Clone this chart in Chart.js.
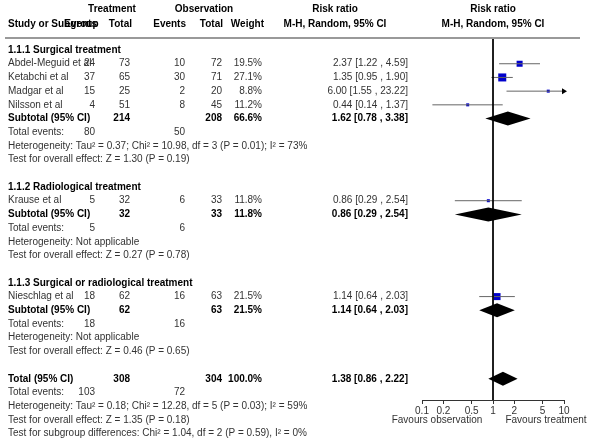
<!DOCTYPE html>
<html>
<head>
<meta charset="utf-8">
<script src="https://cdn.jsdelivr.net/npm/chart.js@4"></script>
<style>body{margin:0;background:#fff}</style>
</head>
<body>
<div style="width:591px;height:448px"><canvas id="myChart"></canvas></div>
<script>
// study rows: row index, name, events/totals, weight, rr with ci
var studyRows = [1, 2, 3, 4, 11, 18];
var studyNames = ['Abdel-Meguid et al', 'Ketabchi et al', 'Madgar et al', 'Nilsson et al', 'Krause et al', 'Nieschlag et al'];
var trtEvents = [24, 37, 15, 4, 5, 18];
var trtTotal = [73, 65, 25, 51, 32, 62];
var obsEvents = [10, 30, 2, 8, 6, 16];
var obsTotal = [72, 71, 20, 45, 33, 63];
var weights = ['19.5%', '27.1%', '8.8%', '11.2%', '11.8%', '21.5%'];
var rr = [2.37, 1.35, 6.00, 0.44, 0.86, 1.14];
var rrLo = [1.22, 0.95, 1.55, 0.14, 0.29, 0.64];
var rrHi = [4.59, 1.90, 23.22, 1.37, 2.54, 2.03];
var boxSize = [6, 8, 3, 3, 3, 7];

// pooled rows (subtotals and total)
var poolRows = [5, 12, 19, 24];
var poolNames = ['Subtotal (95% CI)', 'Subtotal (95% CI)', 'Subtotal (95% CI)', 'Total (95% CI)'];
var poolTrtTotal = [214, 32, 62, 308];
var poolObsTotal = [208, 33, 63, 304];
var poolWeight = ['66.6%', '11.8%', '21.5%', '100.0%'];
var poolRR = [1.62, 0.86, 1.14, 1.38];
var poolLo = [0.78, 0.29, 0.64, 0.86];
var poolHi = [3.38, 2.54, 2.03, 2.22];
var poolTrtEvents = [80, 5, 18, 103];
var poolObsEvents = [50, 6, 16, 72];

var groupRows = [0, 10, 17];
var groupNames = ['1.1.1 Surgical treatment', '1.1.2 Radiological treatment', '1.1.3 Surgical or radiological treatment'];

var noteRows = [7, 8, 14, 15, 21, 22, 26, 27, 28];
var notes = [
  'Heterogeneity: Tau\u00b2 = 0.37; Chi\u00b2 = 10.98, df = 3 (P = 0.01); I\u00b2 = 73%',
  'Test for overall effect: Z = 1.30 (P = 0.19)',
  'Heterogeneity: Not applicable',
  'Test for overall effect: Z = 0.27 (P = 0.78)',
  'Heterogeneity: Not applicable',
  'Test for overall effect: Z = 0.46 (P = 0.65)',
  'Heterogeneity: Tau\u00b2 = 0.18; Chi\u00b2 = 12.28, df = 5 (P = 0.03); I\u00b2 = 59%',
  'Test for overall effect: Z = 1.35 (P = 0.18)',
  'Test for subgroup differences: Chi\u00b2 = 1.04, df = 2 (P = 0.59), I\u00b2 = 0%'
];

var xTicks = [0.1, 0.2, 0.5, 1, 2, 5, 10];
var xMin = 0.1, xMax = 10;
var yTop = -0.88, yBottom = 25.55;

var FONT = '"Liberation Sans", Arial, sans-serif';
function fmt(v) { return v.toFixed(2); }

var datasets = [];
// line of no effect
datasets.push({type: 'line', data: [{x: 1, y: yTop}, {x: 1, y: yBottom}], borderColor: '#000', borderWidth: 1, pointRadius: 0});
// CI whiskers
for (var i = 0; i < studyRows.length; i++) {
  datasets.push({type: 'line', data: [{x: Math.max(rrLo[i], xMin), y: studyRows[i]}, {x: Math.min(rrHi[i], xMax), y: studyRows[i]}],
    borderColor: '#666', borderWidth: 1, pointRadius: 0});
}
// boxes
datasets.push({type: 'scatter', data: rr.map(function (v, i) { return {x: v, y: studyRows[i]}; }),
  pointStyle: 'rect', pointRadius: boxSize.map(function (s) { return s / 1.41; }),
  backgroundColor: '#0000cc', borderColor: '#0000cc', borderWidth: 0});

var textPlugin = {
  id: 'forestText',
  afterDatasetsDraw: function (chart) {
    var ctx = chart.ctx, ys = chart.scales.y, xs = chart.scales.x;
    // pooled diamonds
    ctx.save();
    ctx.fillStyle = '#000';
    poolRows.forEach(function (r, j) {
      var yc = ys.getPixelForValue(r);
      ctx.beginPath();
      ctx.moveTo(xs.getPixelForValue(poolLo[j]), yc);
      ctx.lineTo(xs.getPixelForValue(poolRR[j]), yc - 7);
      ctx.lineTo(xs.getPixelForValue(poolHi[j]), yc);
      ctx.lineTo(xs.getPixelForValue(poolRR[j]), yc + 7);
      ctx.closePath(); ctx.fill();
    });
    ctx.restore();
  },
  afterDraw: function (chart) {
    var ctx = chart.ctx, ys = chart.scales.y, xs = chart.scales.x;
    function txt(s, x, row, align, bold) {
      ctx.font = (bold ? 'bold ' : '') + '10px ' + FONT;
      ctx.fillStyle = bold ? '#000' : '#333';
      ctx.textAlign = align;
      ctx.textBaseline = 'middle';
      ctx.fillText(s, x, typeof row === 'number' ? ys.getPixelForValue(row) : row.px);
    }
    ctx.save();
    // header
    txt('Treatment', 112, {px: 9}, 'center', true);
    txt('Observation', 204, {px: 9}, 'center', true);
    txt('Risk ratio', 335, {px: 9}, 'center', true);
    txt('Risk ratio', 493, {px: 9}, 'center', true);
    txt('Study or Subgroup', 8, {px: 24}, 'left', true);
    txt('Events', 97, {px: 24}, 'right', true);
    txt('Total', 132, {px: 24}, 'right', true);
    txt('Events', 186, {px: 24}, 'right', true);
    txt('Total', 223, {px: 24}, 'right', true);
    txt('Weight', 264, {px: 24}, 'right', true);
    txt('M-H, Random, 95% CI', 335, {px: 24}, 'center', true);
    txt('M-H, Random, 95% CI', 493, {px: 24}, 'center', true);
    ctx.strokeStyle = '#999'; ctx.lineWidth = 2;
    ctx.beginPath(); ctx.moveTo(5, 38); ctx.lineTo(580, 38); ctx.stroke();

    groupNames.forEach(function (g, i) { txt(g, 8, groupRows[i], 'left', true); });
    studyNames.forEach(function (n, i) {
      var r = studyRows[i];
      txt(n, 8, r, 'left'); txt(String(trtEvents[i]), 95, r, 'right'); txt(String(trtTotal[i]), 130, r, 'right');
      txt(String(obsEvents[i]), 185, r, 'right'); txt(String(obsTotal[i]), 222, r, 'right'); txt(weights[i], 262, r, 'right');
      txt(fmt(rr[i]) + ' [' + fmt(rrLo[i]) + ' , ' + fmt(rrHi[i]) + ']', 408, r, 'right');
      if (rrHi[i] > xMax) {
        var ax = xs.getPixelForValue(xMax) + 3, ay = ys.getPixelForValue(r);
        ctx.fillStyle = '#000'; ctx.beginPath();
        ctx.moveTo(ax, ay); ctx.lineTo(ax - 5, ay - 3); ctx.lineTo(ax - 5, ay + 3); ctx.closePath(); ctx.fill();
      }
    });
    poolNames.forEach(function (n, i) {
      var r = poolRows[i];
      txt(n, 8, r, 'left', true); txt(String(poolTrtTotal[i]), 130, r, 'right', true);
      txt(String(poolObsTotal[i]), 222, r, 'right', true); txt(poolWeight[i], 262, r, 'right', true);
      txt(fmt(poolRR[i]) + ' [' + fmt(poolLo[i]) + ' , ' + fmt(poolHi[i]) + ']', 408, r, 'right', true);
      txt('Total events:', 8, r + 1, 'left'); txt(String(poolTrtEvents[i]), 95, r + 1, 'right');
      txt(String(poolObsEvents[i]), 185, r + 1, 'right');
    });
    notes.forEach(function (n, i) { txt(n, 8, noteRows[i], 'left'); });
    txt('Favours observation', 437, {px: 420}, 'center');
    txt('Favours treatment', 546, {px: 420}, 'center');
    ctx.restore();
  }
};

var ctx = document.getElementById('myChart');
var myChart = new Chart(ctx, {
  data: {datasets: datasets},
  options: {
    responsive: true, maintainAspectRatio: false, animation: false,
    layout: {padding: {left: 422, right: 27, top: 38, bottom: 28}},
    plugins: {legend: {display: false}, tooltip: {enabled: false}},
    scales: {
      x: {
        type: 'logarithmic', min: xMin, max: xMax,
        afterBuildTicks: function (s) { s.ticks = xTicks.map(function (v) { return {value: v}; }); },
        afterFit: function (s) { s.height = 20; },
        ticks: {color: '#333', font: {family: FONT, size: 10}, padding: 1, maxRotation: 0,
          callback: function (v) { return String(v); }},
        grid: {drawOnChartArea: false, tickLength: 4, color: '#333'},
        border: {color: '#333'}
      },
      y: {display: false, min: yTop, max: yBottom, reverse: true}
    }
  },
  plugins: [textPlugin]
});
</script>
</body>
</html>
